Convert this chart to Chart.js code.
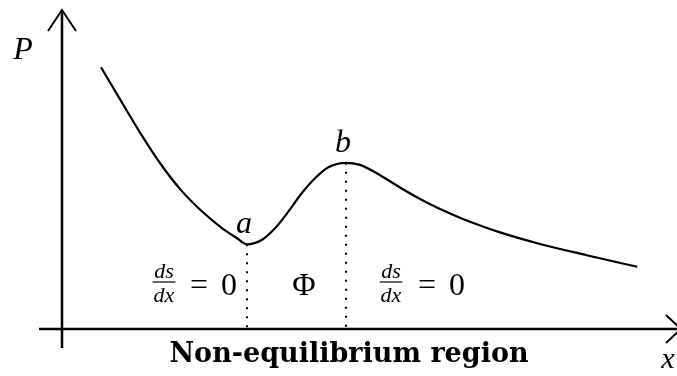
<!DOCTYPE html>
<html>
<head>
<meta charset="utf-8">
<style>
  html, body { margin: 0; padding: 0; background: #fff; }
  #wrap { width: 677px; height: 376px; }
</style>
<script src="https://cdn.jsdelivr.net/npm/chart.js@4"></script>
</head>
<body>
<div id="wrap"><canvas id="chart" width="677" height="376"></canvas></div>
<script>
// Pressure curve P(x) through the non-equilibrium region
const xs = [0.639, 0.967, 1.295, 1.623, 1.951, 2.279, 2.607, 2.852, 3.033,
            3.274, 3.492, 3.71, 3.93, 4.148, 4.366, 4.656,
            4.885, 5.103, 5.377, 5.651, 5.979, 6.361, 6.743, 7.18, 7.836, 8.602, 9.431];
const ps = [8.204, 7.15, 6.11, 5.157, 4.354, 3.715, 3.188, 2.868, 2.655,
            2.79, 3.157, 3.677, 4.254, 4.724, 5.069, 5.21,
            5.144, 4.944, 4.63, 4.31, 3.966, 3.621, 3.32, 3.028, 2.665, 2.313, 1.95];

// turning points: a = minimum, b = maximum
const markNames = ["a", "b"];
const markIdx = [8, 15];

const serif = "'Liberation Serif', 'DejaVu Serif', serif";
const ink = "#000";

function dropLine(i) {
  return {
    data: [{ x: xs[i], y: ps[i] }, { x: xs[i], y: 0 }],
    borderColor: ink,
    borderWidth: 2,
    borderDash: [2, 7],
    pointRadius: 0,
    tension: 0,
    fill: false,
  };
}

function frac(ctx, cx, cy, top, bottom, size) {
  ctx.font = "italic " + size + "px " + serif;
  ctx.textAlign = "center";
  ctx.textBaseline = "alphabetic";
  ctx.fillText(top, cx, cy - 4);
  ctx.fillText(bottom, cx, cy + size - 2);
  const w = Math.max(ctx.measureText(top).width, ctx.measureText(bottom).width);
  ctx.lineWidth = 1.2;
  ctx.beginPath();
  ctx.moveTo(cx - w / 2 - 1, cy);
  ctx.lineTo(cx + w / 2 + 1, cy);
  ctx.stroke();
}

const annotate = {
  id: "annotate",
  afterDraw(chart) {
    const ctx = chart.ctx;
    const sx = chart.scales.x, sy = chart.scales.y;
    const ox = sx.getPixelForValue(0), oy = sy.getPixelForValue(0);
    const top = chart.chartArea.top;

    ctx.save();
    ctx.strokeStyle = ink;
    ctx.fillStyle = ink;
    ctx.lineCap = "butt";

    // axes
    ctx.lineWidth = 2.5;
    ctx.beginPath();
    ctx.moveTo(ox, oy + 19);
    ctx.lineTo(ox, top);
    ctx.moveTo(ox - 23, oy);
    ctx.lineTo(681, oy);
    ctx.stroke();

    // arrow heads
    ctx.lineWidth = 2;
    ctx.beginPath();
    ctx.moveTo(ox - 14, top + 21);
    ctx.lineTo(ox, top);
    ctx.lineTo(ox + 14, top + 21);
    ctx.moveTo(666, oy - 14);
    ctx.lineTo(681, oy);
    ctx.lineTo(666, oy + 14);
    ctx.stroke();

    // axis names
    ctx.font = "italic 32px " + serif;
    ctx.textAlign = "center";
    ctx.textBaseline = "alphabetic";
    ctx.fillText("P", 23, 59);
    ctx.font = "italic 30px " + serif;
    ctx.fillText("x", 668, 368);

    // turning point labels
    ctx.font = "italic 32px " + serif;
    markIdx.forEach((i, k) => {
      const px = sx.getPixelForValue(xs[i]);
      const py = sy.getPixelForValue(ps[i]);
      ctx.fillText(markNames[k], px - 3, py - 11);
    });

    // region labels
    const lineY = 282;
    frac(ctx, 164, lineY, "ds", "dx", 22);
    frac(ctx, 391, lineY, "ds", "dx", 22);
    ctx.font = "32px " + serif;
    ctx.textAlign = "center";
    ctx.fillText("=", 199, 295);
    ctx.fillText("0", 229, 295);
    ctx.fillText("=", 427, 295);
    ctx.fillText("0", 457, 295);
    ctx.fillText("\u03A6", 304, 295);

    ctx.font = "bold 27px 'DejaVu Serif', serif";
    ctx.fillText("Non-equilibrium region", 349, 362);
    ctx.restore();
  },
};

new Chart(document.getElementById("chart"), {
  type: "line",
  data: {
    datasets: [
      {
        data: xs.map((x, i) => ({ x: x, y: ps[i] })),
        borderColor: ink,
        borderWidth: 2.2,
        pointRadius: 0,
        cubicInterpolationMode: "monotone",
        fill: false,
      },
      dropLine(markIdx[0]),
      dropLine(markIdx[1]),
    ],
  },
  options: {
    responsive: false,
    animation: false,
    layout: { padding: { left: 62, right: 5, top: 10, bottom: 47 } },
    plugins: { legend: { display: false }, tooltip: { enabled: false } },
    scales: {
      x: { type: "linear", min: 0, max: 10, display: false },
      y: { type: "linear", min: 0, max: 10, display: false },
    },
  },
  plugins: [annotate],
});
</script>
</body>
</html>
